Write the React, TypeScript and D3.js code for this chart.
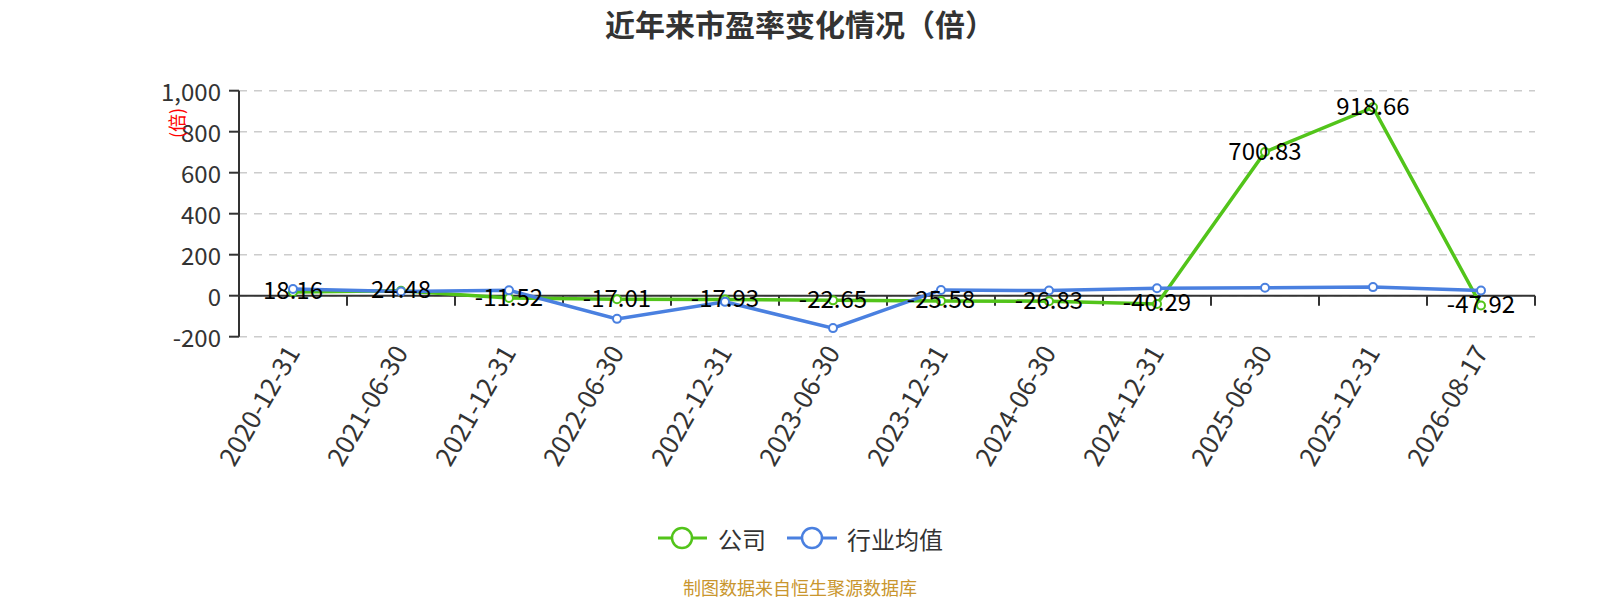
import { line, scaleBand, scaleLinear } from "d3";
import { useMemo } from "react";

const dates = [
  "2020-12-31",
  "2021-06-30",
  "2021-12-31",
  "2022-06-30",
  "2022-12-31",
  "2023-06-30",
  "2023-12-31",
  "2024-06-30",
  "2024-12-31",
  "2025-06-30",
  "2025-12-31",
  "2026-08-17",
];
const company = [18.16, 24.48, -11.52, -17.01, -17.93, -22.65, -25.58, -26.83, -40.29, 700.83, 918.66, -47.92];
const industry = [33, 20, 26, -113, -30, -158, 28, 25, 36, 39, 42, 25];
const yTicks = [-200, 0, 200, 400, 600, 800, 1000];

const GREEN = "#52c41a";
const BLUE = "#4a80e0";
const FONT = "'Noto Sans CJK SC', 'Noto Sans', sans-serif";

const left = 239;
const right = 1535;
const top = 90.7;
const bottom = 336.7;

const App = () => {
  const x = useMemo(() => scaleBand<string>().domain(dates).range([left, right]), []);
  const y = useMemo(() => scaleLinear().domain([-200, 1000]).range([bottom, top]), []);
  const cx = (i: number) => (x(dates[i]) as number) + x.bandwidth() / 2;
  const path = line<number>()
    .x((_, i) => cx(i))
    .y((d) => y(d));

  return (
    <svg
      width={1600}
      height={600}
      style={{ position: "fixed", left: 0, top: 0, background: "#fff" }}
      fontFamily={FONT}
    >
      <text x={800} y={23} textAnchor="middle" dominantBaseline="central" fontSize={30} fontWeight="bold" fill="#333">
        近年来市盈率变化情况（倍）
      </text>

      {/* grid */}
      {yTicks.map((t) => (
        <line key={t} x1={left} x2={right} y1={y(t)} y2={y(t)} stroke="#ccc" strokeWidth={1.5} strokeDasharray="8,7" />
      ))}

      {/* y axis */}
      <line x1={left} x2={left} y1={top} y2={bottom} stroke="#333" strokeWidth={2} />
      {yTicks.map((t) => (
        <g key={t}>
          <line x1={left - 10} x2={left} y1={y(t)} y2={y(t)} stroke="#333" strokeWidth={2} />
          <text x={left - 18} y={y(t)} textAnchor="end" dominantBaseline="central" fontSize={24} fill="#333">
            {t.toLocaleString("en-US")}
          </text>
        </g>
      ))}
      <text
        transform={`translate(176,123) rotate(-90)`}
        textAnchor="middle"
        dominantBaseline="central"
        fontSize={18}
        fill="red"
      >
        (倍)
      </text>

      {/* x axis at zero */}
      <line x1={left} x2={right} y1={y(0)} y2={y(0)} stroke="#333" strokeWidth={2} />
      {dates.map((d) => (
        <line
          key={d}
          x1={(x(d) as number) + x.bandwidth()}
          x2={(x(d) as number) + x.bandwidth()}
          y1={y(0)}
          y2={y(0) + 10}
          stroke="#333"
          strokeWidth={2}
        />
      ))}
      {dates.map((d, i) => (
        <text
          key={d}
          transform={`translate(${cx(i) - 2},${bottom + 10}) rotate(-60)`}
          textAnchor="end"
          dominantBaseline="central"
          fontSize={26}
          fill="#333"
        >
          {d}
        </text>
      ))}

      {/* lines */}
      <path d={path(company) || ""} fill="none" stroke={GREEN} strokeWidth={3.5} />
      <path d={path(industry) || ""} fill="none" stroke={BLUE} strokeWidth={3.5} />
      {company.map((v, i) => (
        <circle key={"c" + i} cx={cx(i)} cy={y(v)} r={4} fill="#fff" stroke={GREEN} strokeWidth={2} />
      ))}
      {industry.map((v, i) => (
        <circle key={"b" + i} cx={cx(i)} cy={y(v)} r={4} fill="#fff" stroke={BLUE} strokeWidth={2} />
      ))}
      {company.map((v, i) => (
        <text key={"l" + i} x={cx(i)} y={y(v) - 3} textAnchor="middle" dominantBaseline="central" fontSize={24} fill="#000">
          {v.toFixed(2)}
        </text>
      ))}

      {/* legend */}
      <g>
        <line x1={658} x2={707} y1={538} y2={538} stroke={GREEN} strokeWidth={3} />
        <circle cx={682} cy={538} r={10} fill="#fff" stroke={GREEN} strokeWidth={2.5} />
        <text x={718} y={538} dominantBaseline="central" fontSize={24} fill="#333">
          公司
        </text>
        <line x1={787} x2={837} y1={538} y2={538} stroke={BLUE} strokeWidth={3} />
        <circle cx={812} cy={538} r={10} fill="#fff" stroke={BLUE} strokeWidth={2.5} />
        <text x={847} y={538} dominantBaseline="central" fontSize={24} fill="#333">
          行业均值
        </text>
      </g>

      <text x={800} y={587} textAnchor="middle" dominantBaseline="central" fontSize={18} fill="#c9962e">
        制图数据来自恒生聚源数据库
      </text>
    </svg>
  );
};

export default App;
